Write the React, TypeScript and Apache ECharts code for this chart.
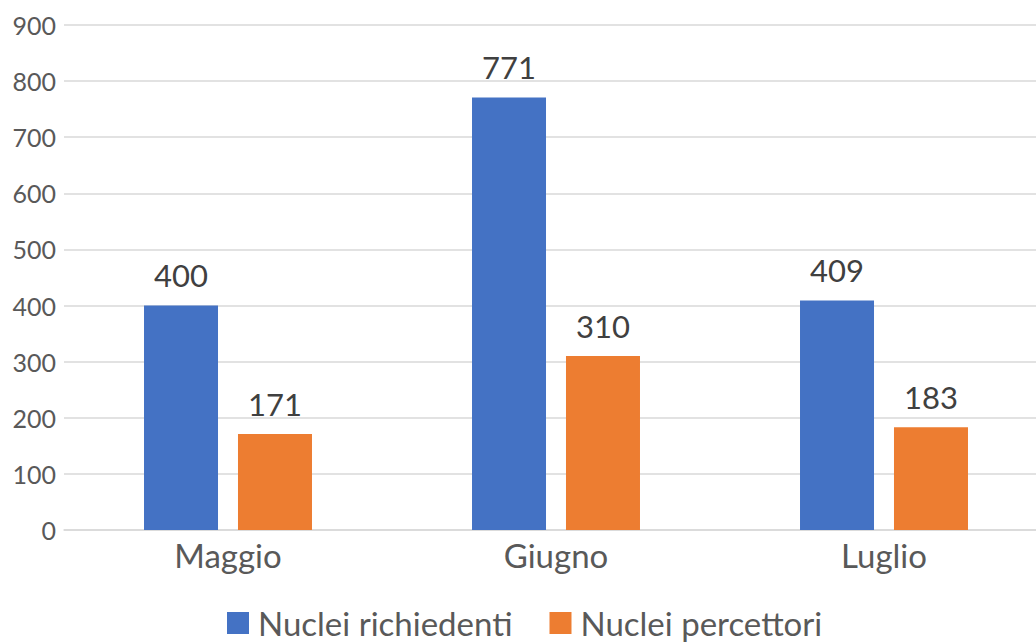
import React, { useEffect, useRef } from "react";
import * as echarts from "echarts";

const categories = ["Maggio", "Giugno", "Luglio"];
const richiedenti = [400, 771, 409];
const percettori = [171, 310, 183];
const seriesNames = ["Nuclei richiedenti", "Nuclei percettori"];

export default function App() {
  const ref = useRef<HTMLDivElement>(null);
  useEffect(() => {
    const chart = echarts.init(ref.current!, null, { renderer: "svg" });
    const font = "Lato, 'Open Sans', sans-serif";
    chart.setOption({
      animation: false,
      textStyle: { fontFamily: font },
      grid: { left: 64, top: 25, right: 0, height: 505, containLabel: false },
      legend: {
        top: 605,
        left: 227,
        padding: 0,
        itemWidth: 22,
        itemHeight: 22,
        itemGap: 37,
        icon: "rect",
        textStyle: { fontSize: 33, lineHeight: 36, color: "#595959", fontFamily: font, padding: [0, 0, 0, 4] },
        data: seriesNames,
      },
      xAxis: {
        type: "category",
        data: categories,
        axisLine: { show: true, lineStyle: { color: "#d9d9d9", width: 1.5 } },
        axisTick: { show: false },
        axisLabel: { fontSize: 33, color: "#595959", margin: 8, fontFamily: font },
      },
      yAxis: {
        type: "value",
        min: 0,
        max: 900,
        interval: 100,
        axisLine: { show: false },
        axisTick: { show: false },
        splitLine: { lineStyle: { color: "#d9d9d9", width: 1.5 } },
        axisLabel: { fontSize: 25, color: "#595959", margin: 8, fontFamily: font },
      },
      series: [
        {
          name: seriesNames[0],
          type: "bar",
          data: richiedenti,
          barWidth: 74,
          barGap: "27%",
          itemStyle: { color: "#4472c4" },
          label: { show: true, position: "top", distance: 15, fontSize: 31, color: "#404040", fontFamily: font },
        },
        {
          name: seriesNames[1],
          type: "bar",
          data: percettori,
          barWidth: 74,
          barGap: "27%",
          itemStyle: { color: "#ed7d31" },
          label: { show: true, position: "top", distance: 15, fontSize: 31, color: "#404040", fontFamily: font },
        },
      ],
    });
    return () => chart.dispose();
  }, []);
  return (
    <div style={{ position: "fixed", left: 0, top: 0, width: 1036, height: 643, overflow: "hidden", background: "#fff" }}>
      <div ref={ref} style={{ width: 1048, height: 643 }} />
    </div>
  );
}
